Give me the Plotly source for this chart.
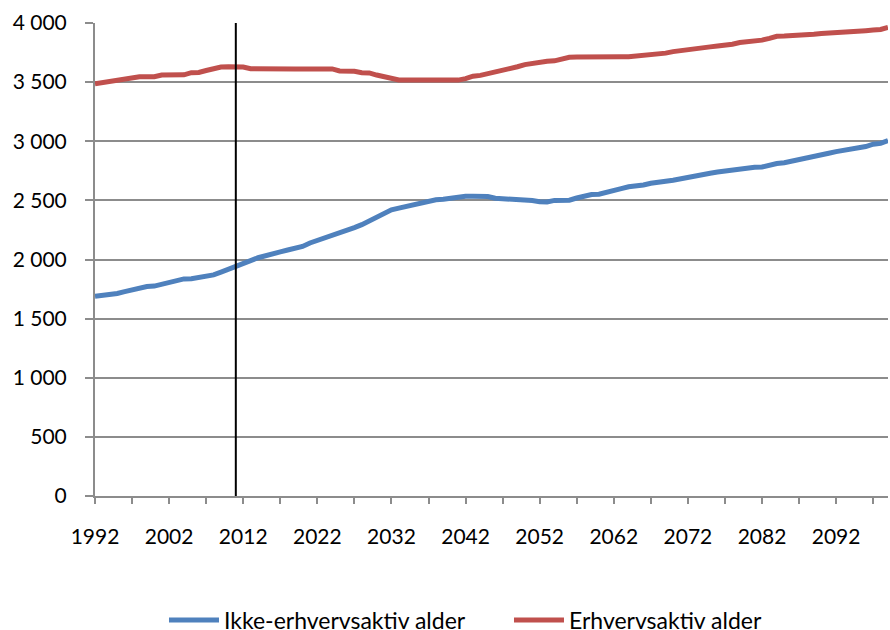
import plotly.graph_objects as go

# Years on the horizontal axis
years = list(range(1992, 2100))

# Population (thousands) not of working age
ikke_erhverv = [
    1690, 1695, 1700, 1713, 1728, 1742, 1757, 1772, 1775, 1790,  # 1992-2001
    1805, 1825, 1836, 1838, 1848, 1852, 1870, 1893, 1920, 1945,  # 2002-2011
    1968, 1990, 2015, 2035, 2050, 2065, 2080, 2095, 2110, 2140,  # 2012-2021
    2160, 2180, 2200, 2225, 2245, 2270, 2295, 2325, 2365, 2395,  # 2022-2031
    2420, 2435, 2450, 2462, 2475, 2495, 2505, 2510, 2520, 2530,  # 2032-2041
    2535, 2535, 2535, 2533, 2518, 2515, 2514, 2508, 2500, 2498,  # 2042-2051
    2488, 2486, 2500, 2502, 2502, 2520, 2538, 2550, 2552, 2565,  # 2052-2061
    2580, 2600, 2615, 2618, 2630, 2645, 2658, 2662, 2670, 2682,  # 2062-2071
    2700, 2715, 2725, 2730, 2740, 2748, 2752, 2765, 2778, 2780,  # 2072-2081
    2782, 2800, 2812, 2818, 2830, 2840, 2855, 2870, 2885, 2898,  # 2082-2091
    2912, 2924, 2928, 2940, 2955, 2975, 2982, 3006,              # 2092-2099
]

# Population (thousands) of working age
erhverv = [
    3485, 3495, 3510, 3515, 3530, 3545, 3545, 3545, 3545, 3560,  # 1992-2001
    3562, 3562, 3562, 3580, 3582, 3598, 3614, 3628, 3630, 3630,  # 2002-2011
    3628, 3614, 3612, 3612, 3612, 3612, 3612, 3612, 3612, 3612,  # 2012-2021
    3612, 3612, 3612, 3595, 3594, 3592, 3580, 3578, 3560, 3545,  # 2022-2031
    3530, 3518, 3517, 3517, 3517, 3517, 3517, 3517, 3517, 3517,  # 2032-2041
    3530, 3550, 3557, 3570, 3585, 3600, 3615, 3630, 3648, 3660,  # 2042-2051
    3675, 3677, 3680, 3695, 3710, 3712, 3714, 3714, 3714, 3714,  # 2052-2061
    3714, 3714, 3714, 3720, 3728, 3730, 3730, 3745, 3758, 3768,  # 2062-2071
    3772, 3780, 3790, 3798, 3805, 3808, 3820, 3835, 3842, 3845,  # 2072-2081
    3855, 3870, 3888, 3890, 3892, 3892, 3895, 3905, 3912, 3915,  # 2082-2091
    3916, 3918, 3920, 3925, 3935, 3940, 3945, 3963,              # 2092-2099
]

# Current year marker
marker_year = 2011

x_tickvals = list(range(1992, 2100, 10))
y_tickvals = [0, 500, 1000, 1500, 2000, 2500, 3000, 3500, 4000]
y_ticktext = ["0", "500", "1 000", "1 500", "2 000", "2 500", "3 000", "3 500", "4 000"]

FONT = "Lato, 'Open Sans', sans-serif"
GRID = "#8c8c8c"

fig = go.Figure()
fig.add_trace(go.Scatter(
    x=years, y=ikke_erhverv, mode="lines", name="Ikke-erhvervsaktiv alder",
    line=dict(color="#4F81BD", width=5), cliponaxis=False,
))
fig.add_trace(go.Scatter(
    x=years, y=erhverv, mode="lines", name="Erhvervsaktiv alder",
    line=dict(color="#C0504D", width=5), cliponaxis=False,
))

fig.add_shape(type="line", xref="x", yref="y",
              x0=marker_year, x1=marker_year, y0=0, y1=4000,
              line=dict(color="black", width=2))

fig.update_layout(
    width=890, height=630,
    margin=dict(l=95, r=2, t=23, b=134, autoexpand=False),
    paper_bgcolor="white", plot_bgcolor="white",
    font=dict(family=FONT, size=21, color="black"),
    showlegend=True,
    legend=dict(orientation="h", x=0.087, xanchor="left", y=-0.262,
                yanchor="middle", font=dict(size=23), itemwidth=50,
                entrywidth=280, entrywidthmode="pixels",
                tracegroupgap=0),
)
fig.update_xaxes(
    range=[1992, 2099], tickvals=x_tickvals,
    ticks="outside", ticklen=6, tickwidth=2, tickcolor=GRID,
    minor=dict(dtick=5, tick0=1992, ticks="outside", ticklen=6,
               tickwidth=2, tickcolor=GRID, showgrid=False),
    showline=True, linecolor=GRID, linewidth=2,
    showgrid=False, zeroline=False, ticklabelstandoff=15,
)
fig.update_yaxes(
    range=[0, 4000], tickvals=y_tickvals, ticktext=y_ticktext,
    ticks="outside", ticklen=8, tickwidth=2, tickcolor=GRID,
    showline=True, linecolor=GRID, linewidth=2,
    showgrid=True, gridcolor=GRID, gridwidth=2, zeroline=False,
    ticklabelstandoff=14,
)

fig.write_html("out.html")
